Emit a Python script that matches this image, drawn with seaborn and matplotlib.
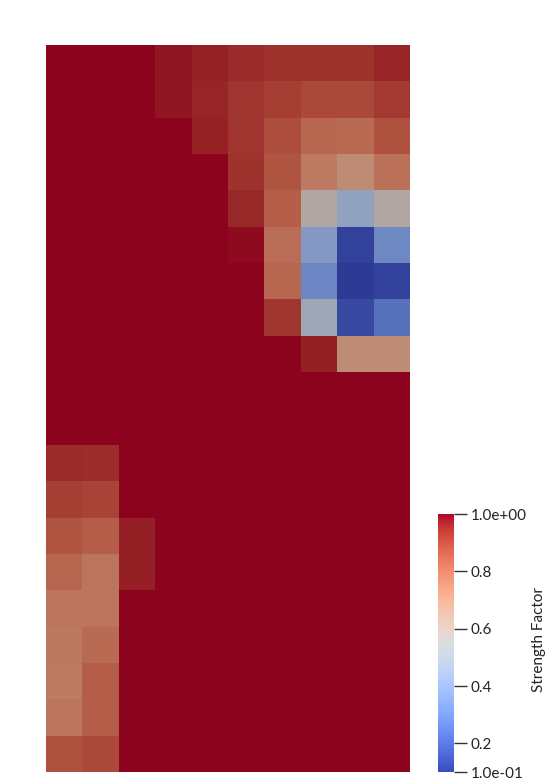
import numpy as np
import matplotlib
matplotlib.use("Agg")
import matplotlib.pyplot as plt
from matplotlib.colors import ListedColormap, Normalize
import matplotlib.cm as cm
import seaborn as sns

# strength factor per cell, 20 rows (top to bottom) x 10 columns
row_00 = [1.00, 1.00, 1.00, 0.98, 0.965, 0.95, 0.94, 0.94, 0.94, 0.96]
row_01 = [1.00, 1.00, 1.00, 0.98, 0.96, 0.93, 0.91, 0.89, 0.89, 0.92]
row_02 = [1.00, 1.00, 1.00, 1.00, 0.965, 0.93, 0.88, 0.82, 0.81, 0.87]
row_03 = [1.00, 1.00, 1.00, 1.00, 1.00, 0.935, 0.86, 0.76, 0.71, 0.79]
row_04 = [1.00, 1.00, 1.00, 1.00, 1.00, 0.955, 0.84, 0.58, 0.45, 0.58]
row_05 = [1.00, 1.00, 1.00, 1.00, 1.00, 0.99, 0.80, 0.40, 0.12, 0.33]
row_06 = [1.00, 1.00, 1.00, 1.00, 1.00, 1.00, 0.82, 0.32, 0.10, 0.12]
row_07 = [1.00, 1.00, 1.00, 1.00, 1.00, 1.00, 0.93, 0.50, 0.14, 0.25]
row_08 = [1.00, 1.00, 1.00, 1.00, 1.00, 1.00, 1.00, 0.97, 0.71, 0.71]
row_09 = [1.00, 1.00, 1.00, 1.00, 1.00, 1.00, 1.00, 1.00, 1.00, 1.00]
row_10 = [1.00, 1.00, 1.00, 1.00, 1.00, 1.00, 1.00, 1.00, 1.00, 1.00]
row_11 = [0.95, 0.945, 1.00, 1.00, 1.00, 1.00, 1.00, 1.00, 1.00, 1.00]
row_12 = [0.91, 0.90, 1.00, 1.00, 1.00, 1.00, 1.00, 1.00, 1.00, 1.00]
row_13 = [0.86, 0.84, 0.97, 1.00, 1.00, 1.00, 1.00, 1.00, 1.00, 1.00]
row_14 = [0.82, 0.78, 0.97, 1.00, 1.00, 1.00, 1.00, 1.00, 1.00, 1.00]
row_15 = [0.78, 0.78, 1.00, 1.00, 1.00, 1.00, 1.00, 1.00, 1.00, 1.00]
row_16 = [0.77, 0.81, 1.00, 1.00, 1.00, 1.00, 1.00, 1.00, 1.00, 1.00]
row_17 = [0.76, 0.84, 1.00, 1.00, 1.00, 1.00, 1.00, 1.00, 1.00, 1.00]
row_18 = [0.78, 0.84, 1.00, 1.00, 1.00, 1.00, 1.00, 1.00, 1.00, 1.00]
row_19 = [0.87, 0.89, 1.00, 1.00, 1.00, 1.00, 1.00, 1.00, 1.00, 1.00]

values = np.array([row_00, row_01, row_02, row_03, row_04, row_05, row_06,
                   row_07, row_08, row_09, row_10, row_11, row_12, row_13,
                   row_14, row_15, row_16, row_17, row_18, row_19])

cbar_ticks = [1.0, 0.8, 0.6, 0.4, 0.2, 0.1]
cbar_labels = ["1.0e+00", "0.8", "0.6", "0.4", "0.2", "1.0e-01"]
vmin, vmax = 0.1, 1.0

plt.rcParams['font.family'] = ['Lato', 'DejaVu Sans']

# cells look shaded (darker than the legend colours)
base = plt.get_cmap("coolwarm")(np.linspace(0, 1, 256))
shaded = base.copy()
shaded[:, :3] = base[:, :3] * 0.77
shaded_cmap = ListedColormap(shaded)

fig = plt.figure(figsize=(5.54, 7.84), dpi=100)
ax = fig.add_axes([46/554, 12/784, 364/554, 727/784])
sns.heatmap(values, cmap=shaded_cmap, vmin=vmin, vmax=vmax, cbar=False,
            xticklabels=False, yticklabels=False, ax=ax)
ax.axis("off")

# colour legend
cax = fig.add_axes([438/554, 12/784, 16/554, 258/784])
sm = cm.ScalarMappable(norm=Normalize(vmin, vmax), cmap="coolwarm")
cb = fig.colorbar(sm, cax=cax, ticks=cbar_ticks)
cb.outline.set_visible(False)
cb.set_ticklabels(cbar_labels)
cax.tick_params(length=9, width=1, color="#333333", labelsize=11,
                labelcolor="#222222", pad=3)
fig.text(539/554, 1 - 639/784, "Strength Factor", rotation=90,
         ha="center", va="center", fontsize=11, color="#222222")

fig.savefig("out.png", dpi=100)
